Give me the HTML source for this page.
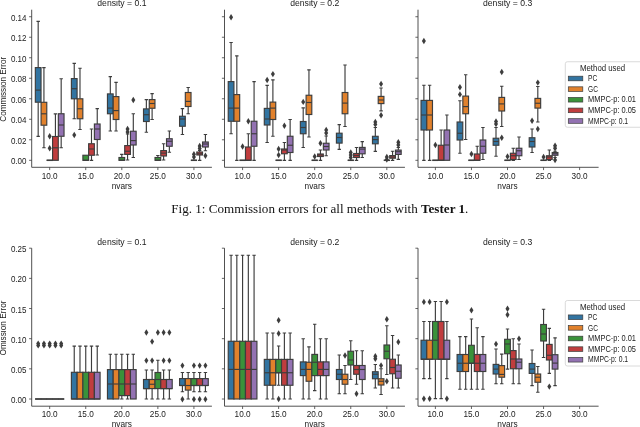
<!DOCTYPE html>
<html><head><meta charset="utf-8"><style>
html,body{margin:0;padding:0;background:#fff;}
body{width:640px;height:427px;overflow:hidden;position:relative;}
svg{position:absolute;left:0;top:0;will-change:transform;filter:blur(0.3px);}
.tk{font-family:"Liberation Sans",sans-serif;font-size:8.8px;fill:#1a1a1a;}
.cap{font-family:"Liberation Serif",serif;font-size:13.5px;fill:#111;}
</style></head><body>
<svg width="640" height="427" viewBox="0 0 640 427">
<path d="M31.7 9.7V167.3H211.9" stroke="#3d3d3d" stroke-width="0.9" fill="none"/>
<path d="M29.1 160.3H31.7" stroke="#3d3d3d" stroke-width="0.8"/>
<text x="26.5" y="164.3" text-anchor="end" class="tk" textLength="15.6" lengthAdjust="spacingAndGlyphs">0.00</text>
<path d="M29.1 139.79H31.7" stroke="#3d3d3d" stroke-width="0.8"/>
<text x="26.5" y="143.79" text-anchor="end" class="tk" textLength="15.6" lengthAdjust="spacingAndGlyphs">0.02</text>
<path d="M29.1 119.28H31.7" stroke="#3d3d3d" stroke-width="0.8"/>
<text x="26.5" y="123.28" text-anchor="end" class="tk" textLength="15.6" lengthAdjust="spacingAndGlyphs">0.04</text>
<path d="M29.1 98.77H31.7" stroke="#3d3d3d" stroke-width="0.8"/>
<text x="26.5" y="102.77" text-anchor="end" class="tk" textLength="15.6" lengthAdjust="spacingAndGlyphs">0.06</text>
<path d="M29.1 78.26H31.7" stroke="#3d3d3d" stroke-width="0.8"/>
<text x="26.5" y="82.26" text-anchor="end" class="tk" textLength="15.6" lengthAdjust="spacingAndGlyphs">0.08</text>
<path d="M29.1 57.75H31.7" stroke="#3d3d3d" stroke-width="0.8"/>
<text x="26.5" y="61.75" text-anchor="end" class="tk" textLength="15.6" lengthAdjust="spacingAndGlyphs">0.10</text>
<path d="M29.1 37.24H31.7" stroke="#3d3d3d" stroke-width="0.8"/>
<text x="26.5" y="41.24" text-anchor="end" class="tk" textLength="15.6" lengthAdjust="spacingAndGlyphs">0.12</text>
<path d="M29.1 16.73H31.7" stroke="#3d3d3d" stroke-width="0.8"/>
<text x="26.5" y="20.73" text-anchor="end" class="tk" textLength="15.6" lengthAdjust="spacingAndGlyphs">0.14</text>
<path d="M49.68 167.3V170.1" stroke="#3d3d3d" stroke-width="0.8"/>
<text x="49.68" y="178.9" text-anchor="middle" class="tk" textLength="16" lengthAdjust="spacingAndGlyphs">10.0</text>
<path d="M85.74 167.3V170.1" stroke="#3d3d3d" stroke-width="0.8"/>
<text x="85.74" y="178.9" text-anchor="middle" class="tk" textLength="16" lengthAdjust="spacingAndGlyphs">15.0</text>
<path d="M121.8 167.3V170.1" stroke="#3d3d3d" stroke-width="0.8"/>
<text x="121.8" y="178.9" text-anchor="middle" class="tk" textLength="16" lengthAdjust="spacingAndGlyphs">20.0</text>
<path d="M157.86 167.3V170.1" stroke="#3d3d3d" stroke-width="0.8"/>
<text x="157.86" y="178.9" text-anchor="middle" class="tk" textLength="16" lengthAdjust="spacingAndGlyphs">25.0</text>
<path d="M193.92 167.3V170.1" stroke="#3d3d3d" stroke-width="0.8"/>
<text x="193.92" y="178.9" text-anchor="middle" class="tk" textLength="16" lengthAdjust="spacingAndGlyphs">30.0</text>
<text x="121.8" y="188.9" text-anchor="middle" class="tk" textLength="20.3" lengthAdjust="spacingAndGlyphs">nvars</text>
<text x="121.9" y="5.9" text-anchor="middle" class="tk" textLength="49.2" lengthAdjust="spacingAndGlyphs">density = 0.1</text>
<path d="M38.18 67.6V21.4M36.48 21.4H39.88" stroke="#3d3d3d" stroke-width="1.15" fill="none"/>
<path d="M38.18 102.2V136.3M36.48 136.3H39.88" stroke="#3d3d3d" stroke-width="1.15" fill="none"/>
<rect x="35.33" y="67.6" width="5.7" height="34.6" fill="#3274a1" stroke="#3d3d3d" stroke-width="1.15"/>
<path d="M35.33 90.1H41.03" stroke="#3d3d3d" stroke-width="1.15"/>
<path d="M43.93 102.3V67.6M42.23 67.6H45.63" stroke="#3d3d3d" stroke-width="1.15" fill="none"/>
<path d="M43.93 125.2V147.7M42.23 147.7H45.63" stroke="#3d3d3d" stroke-width="1.15" fill="none"/>
<rect x="41.08" y="102.3" width="5.7" height="22.9" fill="#e1812c" stroke="#3d3d3d" stroke-width="1.15"/>
<path d="M41.08 113.8H46.78" stroke="#3d3d3d" stroke-width="1.15"/>
<path d="M46.53 160.3H52.83" stroke="#3d3d3d" stroke-width="1.5"/>
<path d="M46.83 160.3H52.53" stroke="#3d3d3d" stroke-width="1.15"/>
<path d="M49.68 133.05L51.68 136.25L49.68 139.45L47.68 136.25Z" fill="#3d3d3d"/>
<path d="M49.68 145.05L51.68 148.25L49.68 151.45L47.68 148.25Z" fill="#3d3d3d"/>
<path d="M55.43 136.5V113.8M53.73 113.8H57.13" stroke="#3d3d3d" stroke-width="1.15" fill="none"/>
<rect x="52.58" y="136.5" width="5.7" height="23.8" fill="#c03d3e" stroke="#3d3d3d" stroke-width="1.15"/>
<path d="M52.58 147.8H58.28" stroke="#3d3d3d" stroke-width="1.15"/>
<path d="M61.18 113.75V78.75M59.48 78.75H62.88" stroke="#3d3d3d" stroke-width="1.15" fill="none"/>
<path d="M61.18 136.25V147.75M59.48 147.75H62.88" stroke="#3d3d3d" stroke-width="1.15" fill="none"/>
<rect x="58.33" y="113.75" width="5.7" height="22.5" fill="#9372b2" stroke="#3d3d3d" stroke-width="1.15"/>
<path d="M58.33 125H64.03" stroke="#3d3d3d" stroke-width="1.15"/>
<path d="M74.24 78.6V63.3M72.54 63.3H75.94" stroke="#3d3d3d" stroke-width="1.15" fill="none"/>
<path d="M74.24 98.8V118.75M72.54 118.75H75.94" stroke="#3d3d3d" stroke-width="1.15" fill="none"/>
<rect x="71.39" y="78.6" width="5.7" height="20.2" fill="#3274a1" stroke="#3d3d3d" stroke-width="1.15"/>
<path d="M71.39 88.7H77.09" stroke="#3d3d3d" stroke-width="1.15"/>
<path d="M74.24 131.8L76.24 135L74.24 138.2L72.24 135Z" fill="#3d3d3d"/>
<path d="M79.99 98.8V68.2M78.29 68.2H81.69" stroke="#3d3d3d" stroke-width="1.15" fill="none"/>
<path d="M79.99 118.75V129.5M78.29 129.5H81.69" stroke="#3d3d3d" stroke-width="1.15" fill="none"/>
<rect x="77.14" y="98.8" width="5.7" height="19.95" fill="#e1812c" stroke="#3d3d3d" stroke-width="1.15"/>
<path d="M77.14 108.75H82.84" stroke="#3d3d3d" stroke-width="1.15"/>
<rect x="82.89" y="155.25" width="5.7" height="5.05" fill="#3a923a" stroke="#3d3d3d" stroke-width="1.15"/>
<path d="M82.89 160.3H88.59" stroke="#3d3d3d" stroke-width="1.15"/>
<path d="M91.49 143.75V129M89.79 129H93.19" stroke="#3d3d3d" stroke-width="1.15" fill="none"/>
<path d="M91.49 155.25V160.3M89.79 160.3H93.19" stroke="#3d3d3d" stroke-width="1.15" fill="none"/>
<rect x="88.64" y="143.75" width="5.7" height="11.5" fill="#c03d3e" stroke="#3d3d3d" stroke-width="1.15"/>
<path d="M88.64 149H94.34" stroke="#3d3d3d" stroke-width="1.15"/>
<path d="M97.24 124V108.6M95.54 108.6H98.94" stroke="#3d3d3d" stroke-width="1.15" fill="none"/>
<path d="M97.24 139.5V155M95.54 155H98.94" stroke="#3d3d3d" stroke-width="1.15" fill="none"/>
<rect x="94.39" y="124" width="5.7" height="15.5" fill="#9372b2" stroke="#3d3d3d" stroke-width="1.15"/>
<path d="M94.39 129H100.09" stroke="#3d3d3d" stroke-width="1.15"/>
<path d="M110.3 93.9V76.6M108.6 76.6H112" stroke="#3d3d3d" stroke-width="1.15" fill="none"/>
<path d="M110.3 113.75V131M108.6 131H112" stroke="#3d3d3d" stroke-width="1.15" fill="none"/>
<rect x="107.45" y="93.9" width="5.7" height="19.85" fill="#3274a1" stroke="#3d3d3d" stroke-width="1.15"/>
<path d="M107.45 108.1H113.15" stroke="#3d3d3d" stroke-width="1.15"/>
<path d="M116.05 96.6V82.4M114.35 82.4H117.75" stroke="#3d3d3d" stroke-width="1.15" fill="none"/>
<path d="M116.05 119.5V131M114.35 131H117.75" stroke="#3d3d3d" stroke-width="1.15" fill="none"/>
<rect x="113.2" y="96.6" width="5.7" height="22.9" fill="#e1812c" stroke="#3d3d3d" stroke-width="1.15"/>
<path d="M113.2 110.6H118.9" stroke="#3d3d3d" stroke-width="1.15"/>
<path d="M121.8 157.5V154.4M120.1 154.4H123.5" stroke="#3d3d3d" stroke-width="1.15" fill="none"/>
<rect x="118.95" y="157.5" width="5.7" height="2.8" fill="#3a923a" stroke="#3d3d3d" stroke-width="1.15"/>
<path d="M118.95 160.3H124.65" stroke="#3d3d3d" stroke-width="1.15"/>
<path d="M127.55 145.6V134M125.85 134H129.25" stroke="#3d3d3d" stroke-width="1.15" fill="none"/>
<path d="M127.55 154.4V160M125.85 160H129.25" stroke="#3d3d3d" stroke-width="1.15" fill="none"/>
<rect x="124.7" y="145.6" width="5.7" height="8.8" fill="#c03d3e" stroke="#3d3d3d" stroke-width="1.15"/>
<path d="M124.7 151.25H130.4" stroke="#3d3d3d" stroke-width="1.15"/>
<path d="M127.55 125.8L129.55 129L127.55 132.2L125.55 129Z" fill="#3d3d3d"/>
<path d="M127.55 128.8L129.55 132L127.55 135.2L125.55 132Z" fill="#3d3d3d"/>
<path d="M133.3 131.25V113.75M131.6 113.75H135" stroke="#3d3d3d" stroke-width="1.15" fill="none"/>
<path d="M133.3 145V157.5M131.6 157.5H135" stroke="#3d3d3d" stroke-width="1.15" fill="none"/>
<rect x="130.45" y="131.25" width="5.7" height="13.75" fill="#9372b2" stroke="#3d3d3d" stroke-width="1.15"/>
<path d="M130.45 140.6H136.15" stroke="#3d3d3d" stroke-width="1.15"/>
<path d="M133.3 96.8L135.3 100L133.3 103.2L131.3 100Z" fill="#3d3d3d"/>
<path d="M146.36 108.9V99.6M144.66 99.6H148.06" stroke="#3d3d3d" stroke-width="1.15" fill="none"/>
<path d="M146.36 121.5V132.2M144.66 132.2H148.06" stroke="#3d3d3d" stroke-width="1.15" fill="none"/>
<rect x="143.51" y="108.9" width="5.7" height="12.6" fill="#3274a1" stroke="#3d3d3d" stroke-width="1.15"/>
<path d="M143.51 114.7H149.21" stroke="#3d3d3d" stroke-width="1.15"/>
<path d="M152.11 99.6V93.6M150.41 93.6H153.81" stroke="#3d3d3d" stroke-width="1.15" fill="none"/>
<path d="M152.11 108.25V119.5M150.41 119.5H153.81" stroke="#3d3d3d" stroke-width="1.15" fill="none"/>
<rect x="149.26" y="99.6" width="5.7" height="8.65" fill="#e1812c" stroke="#3d3d3d" stroke-width="1.15"/>
<path d="M149.26 103.5H154.96" stroke="#3d3d3d" stroke-width="1.15"/>
<path d="M157.86 157.5V155.5M156.16 155.5H159.56" stroke="#3d3d3d" stroke-width="1.15" fill="none"/>
<rect x="155.01" y="157.5" width="5.7" height="2.8" fill="#3a923a" stroke="#3d3d3d" stroke-width="1.15"/>
<path d="M155.01 160.3H160.71" stroke="#3d3d3d" stroke-width="1.15"/>
<path d="M163.61 150.6V143.75M161.91 143.75H165.31" stroke="#3d3d3d" stroke-width="1.15" fill="none"/>
<path d="M163.61 156V160M161.91 160H165.31" stroke="#3d3d3d" stroke-width="1.15" fill="none"/>
<rect x="160.76" y="150.6" width="5.7" height="5.4" fill="#c03d3e" stroke="#3d3d3d" stroke-width="1.15"/>
<path d="M160.76 153.1H166.46" stroke="#3d3d3d" stroke-width="1.15"/>
<path d="M169.36 138.75V131M167.66 131H171.06" stroke="#3d3d3d" stroke-width="1.15" fill="none"/>
<path d="M169.36 146.25V152.25M167.66 152.25H171.06" stroke="#3d3d3d" stroke-width="1.15" fill="none"/>
<rect x="166.51" y="138.75" width="5.7" height="7.5" fill="#9372b2" stroke="#3d3d3d" stroke-width="1.15"/>
<path d="M166.51 141.25H172.21" stroke="#3d3d3d" stroke-width="1.15"/>
<path d="M182.42 116.25V108.6M180.72 108.6H184.12" stroke="#3d3d3d" stroke-width="1.15" fill="none"/>
<path d="M182.42 126.25V134.5M180.72 134.5H184.12" stroke="#3d3d3d" stroke-width="1.15" fill="none"/>
<rect x="179.57" y="116.25" width="5.7" height="10" fill="#3274a1" stroke="#3d3d3d" stroke-width="1.15"/>
<path d="M179.57 119H185.27" stroke="#3d3d3d" stroke-width="1.15"/>
<path d="M188.17 92.5V87.5M186.47 87.5H189.87" stroke="#3d3d3d" stroke-width="1.15" fill="none"/>
<path d="M188.17 106.5V113.75M186.47 113.75H189.87" stroke="#3d3d3d" stroke-width="1.15" fill="none"/>
<rect x="185.32" y="92.5" width="5.7" height="14" fill="#e1812c" stroke="#3d3d3d" stroke-width="1.15"/>
<path d="M185.32 101.4H191.02" stroke="#3d3d3d" stroke-width="1.15"/>
<path d="M190.77 160.3H197.07" stroke="#3d3d3d" stroke-width="1.5"/>
<path d="M191.07 160.3H196.77" stroke="#3d3d3d" stroke-width="1.15"/>
<path d="M193.92 151.1L195.92 154.3L193.92 157.5L191.92 154.3Z" fill="#3d3d3d"/>
<path d="M193.92 153.8L195.92 157L193.92 160.2L191.92 157Z" fill="#3d3d3d"/>
<path d="M199.67 152V150.5M197.97 150.5H201.37" stroke="#3d3d3d" stroke-width="1.15" fill="none"/>
<path d="M199.67 155V160.3M197.97 160.3H201.37" stroke="#3d3d3d" stroke-width="1.15" fill="none"/>
<rect x="196.82" y="152" width="5.7" height="3" fill="#c03d3e" stroke="#3d3d3d" stroke-width="1.15"/>
<path d="M196.82 153.75H202.52" stroke="#3d3d3d" stroke-width="1.15"/>
<path d="M199.67 142.8L201.67 146L199.67 149.2L197.67 146Z" fill="#3d3d3d"/>
<path d="M199.67 145.3L201.67 148.5L199.67 151.7L197.67 148.5Z" fill="#3d3d3d"/>
<path d="M205.42 142V134.5M203.72 134.5H207.12" stroke="#3d3d3d" stroke-width="1.15" fill="none"/>
<path d="M205.42 147V150.75M203.72 150.75H207.12" stroke="#3d3d3d" stroke-width="1.15" fill="none"/>
<rect x="202.57" y="142" width="5.7" height="5" fill="#9372b2" stroke="#3d3d3d" stroke-width="1.15"/>
<path d="M202.57 144H208.27" stroke="#3d3d3d" stroke-width="1.15"/>
<path d="M205.42 152.55L207.42 155.75L205.42 158.95L203.42 155.75Z" fill="#3d3d3d"/>
<path d="M224.5 9.7V167.3H404.95" stroke="#3d3d3d" stroke-width="0.9" fill="none"/>
<path d="M221.9 160.3H224.5" stroke="#3d3d3d" stroke-width="0.8"/>
<path d="M221.9 139.79H224.5" stroke="#3d3d3d" stroke-width="0.8"/>
<path d="M221.9 119.28H224.5" stroke="#3d3d3d" stroke-width="0.8"/>
<path d="M221.9 98.77H224.5" stroke="#3d3d3d" stroke-width="0.8"/>
<path d="M221.9 78.26H224.5" stroke="#3d3d3d" stroke-width="0.8"/>
<path d="M221.9 57.75H224.5" stroke="#3d3d3d" stroke-width="0.8"/>
<path d="M221.9 37.24H224.5" stroke="#3d3d3d" stroke-width="0.8"/>
<path d="M221.9 16.73H224.5" stroke="#3d3d3d" stroke-width="0.8"/>
<path d="M242.58 167.3V170.1" stroke="#3d3d3d" stroke-width="0.8"/>
<text x="242.58" y="178.9" text-anchor="middle" class="tk" textLength="16" lengthAdjust="spacingAndGlyphs">10.0</text>
<path d="M278.64 167.3V170.1" stroke="#3d3d3d" stroke-width="0.8"/>
<text x="278.64" y="178.9" text-anchor="middle" class="tk" textLength="16" lengthAdjust="spacingAndGlyphs">15.0</text>
<path d="M314.7 167.3V170.1" stroke="#3d3d3d" stroke-width="0.8"/>
<text x="314.7" y="178.9" text-anchor="middle" class="tk" textLength="16" lengthAdjust="spacingAndGlyphs">20.0</text>
<path d="M350.76 167.3V170.1" stroke="#3d3d3d" stroke-width="0.8"/>
<text x="350.76" y="178.9" text-anchor="middle" class="tk" textLength="16" lengthAdjust="spacingAndGlyphs">25.0</text>
<path d="M386.82 167.3V170.1" stroke="#3d3d3d" stroke-width="0.8"/>
<text x="386.82" y="178.9" text-anchor="middle" class="tk" textLength="16" lengthAdjust="spacingAndGlyphs">30.0</text>
<text x="314.7" y="188.9" text-anchor="middle" class="tk" textLength="20.3" lengthAdjust="spacingAndGlyphs">nvars</text>
<text x="314.8" y="5.9" text-anchor="middle" class="tk" textLength="49.2" lengthAdjust="spacingAndGlyphs">density = 0.2</text>
<path d="M231.08 81.6V42.5M229.38 42.5H232.78" stroke="#3d3d3d" stroke-width="1.15" fill="none"/>
<path d="M231.08 121.25V133.75M229.38 133.75H232.78" stroke="#3d3d3d" stroke-width="1.15" fill="none"/>
<rect x="228.23" y="81.6" width="5.7" height="39.65" fill="#3274a1" stroke="#3d3d3d" stroke-width="1.15"/>
<path d="M228.23 108.1H233.93" stroke="#3d3d3d" stroke-width="1.15"/>
<path d="M231.08 14.05L233.08 17.25L231.08 20.45L229.08 17.25Z" fill="#3d3d3d"/>
<path d="M236.83 94.6V55.8M235.13 55.8H238.53" stroke="#3d3d3d" stroke-width="1.15" fill="none"/>
<path d="M236.83 121.25V160.3M235.13 160.3H238.53" stroke="#3d3d3d" stroke-width="1.15" fill="none"/>
<rect x="233.98" y="94.6" width="5.7" height="26.65" fill="#e1812c" stroke="#3d3d3d" stroke-width="1.15"/>
<path d="M233.98 108.1H239.68" stroke="#3d3d3d" stroke-width="1.15"/>
<path d="M239.43 160.3H245.73" stroke="#3d3d3d" stroke-width="1.5"/>
<path d="M239.73 160.3H245.43" stroke="#3d3d3d" stroke-width="1.15"/>
<path d="M242.58 143.3L244.58 146.5L242.58 149.7L240.58 146.5Z" fill="#3d3d3d"/>
<path d="M248.33 147V133.75M246.63 133.75H250.03" stroke="#3d3d3d" stroke-width="1.15" fill="none"/>
<rect x="245.48" y="147" width="5.7" height="13.3" fill="#c03d3e" stroke="#3d3d3d" stroke-width="1.15"/>
<path d="M245.48 160.3H251.18" stroke="#3d3d3d" stroke-width="1.15"/>
<path d="M248.33 118.05L250.33 121.25L248.33 124.45L246.33 121.25Z" fill="#3d3d3d"/>
<path d="M254.08 121.25V81.6M252.38 81.6H255.78" stroke="#3d3d3d" stroke-width="1.15" fill="none"/>
<path d="M254.08 146.25V160.3M252.38 160.3H255.78" stroke="#3d3d3d" stroke-width="1.15" fill="none"/>
<rect x="251.23" y="121.25" width="5.7" height="25" fill="#9372b2" stroke="#3d3d3d" stroke-width="1.15"/>
<path d="M251.23 133.75H256.93" stroke="#3d3d3d" stroke-width="1.15"/>
<path d="M267.14 108.4V85.4M265.44 85.4H268.84" stroke="#3d3d3d" stroke-width="1.15" fill="none"/>
<path d="M267.14 125V142.5M265.44 142.5H268.84" stroke="#3d3d3d" stroke-width="1.15" fill="none"/>
<rect x="264.29" y="108.4" width="5.7" height="16.6" fill="#3274a1" stroke="#3d3d3d" stroke-width="1.15"/>
<path d="M264.29 119H269.99" stroke="#3d3d3d" stroke-width="1.15"/>
<path d="M267.14 76.8L269.14 80L267.14 83.2L265.14 80Z" fill="#3d3d3d"/>
<path d="M272.89 102.1V79.9M271.19 79.9H274.59" stroke="#3d3d3d" stroke-width="1.15" fill="none"/>
<path d="M272.89 119.5V136.25M271.19 136.25H274.59" stroke="#3d3d3d" stroke-width="1.15" fill="none"/>
<rect x="270.04" y="102.1" width="5.7" height="17.4" fill="#e1812c" stroke="#3d3d3d" stroke-width="1.15"/>
<path d="M270.04 108.1H275.74" stroke="#3d3d3d" stroke-width="1.15"/>
<path d="M272.89 70.9L274.89 74.1L272.89 77.3L270.89 74.1Z" fill="#3d3d3d"/>
<path d="M275.49 160.3H281.79" stroke="#3d3d3d" stroke-width="1.5"/>
<path d="M275.79 160.3H281.49" stroke="#3d3d3d" stroke-width="1.15"/>
<path d="M278.64 145.8L280.64 149L278.64 152.2L276.64 149Z" fill="#3d3d3d"/>
<path d="M278.64 151.8L280.64 155L278.64 158.2L276.64 155Z" fill="#3d3d3d"/>
<path d="M284.39 149V142.5M282.69 142.5H286.09" stroke="#3d3d3d" stroke-width="1.15" fill="none"/>
<path d="M284.39 153.75V160.3M282.69 160.3H286.09" stroke="#3d3d3d" stroke-width="1.15" fill="none"/>
<rect x="281.54" y="149" width="5.7" height="4.75" fill="#c03d3e" stroke="#3d3d3d" stroke-width="1.15"/>
<path d="M281.54 150H287.24" stroke="#3d3d3d" stroke-width="1.15"/>
<path d="M284.39 122.55L286.39 125.75L284.39 128.95L282.39 125.75Z" fill="#3d3d3d"/>
<path d="M290.14 136.25V119.5M288.44 119.5H291.84" stroke="#3d3d3d" stroke-width="1.15" fill="none"/>
<path d="M290.14 152.5V160.3M288.44 160.3H291.84" stroke="#3d3d3d" stroke-width="1.15" fill="none"/>
<rect x="287.29" y="136.25" width="5.7" height="16.25" fill="#9372b2" stroke="#3d3d3d" stroke-width="1.15"/>
<path d="M287.29 145.25H292.99" stroke="#3d3d3d" stroke-width="1.15"/>
<path d="M303.2 121.5V107.9M301.5 107.9H304.9" stroke="#3d3d3d" stroke-width="1.15" fill="none"/>
<path d="M303.2 133.75V147.5M301.5 147.5H304.9" stroke="#3d3d3d" stroke-width="1.15" fill="none"/>
<rect x="300.35" y="121.5" width="5.7" height="12.25" fill="#3274a1" stroke="#3d3d3d" stroke-width="1.15"/>
<path d="M300.35 127.5H306.05" stroke="#3d3d3d" stroke-width="1.15"/>
<path d="M303.2 98.7L305.2 101.9L303.2 105.1L301.2 101.9Z" fill="#3d3d3d"/>
<path d="M308.95 95.25V69.9M307.25 69.9H310.65" stroke="#3d3d3d" stroke-width="1.15" fill="none"/>
<path d="M308.95 114.5V137M307.25 137H310.65" stroke="#3d3d3d" stroke-width="1.15" fill="none"/>
<rect x="306.1" y="95.25" width="5.7" height="19.25" fill="#e1812c" stroke="#3d3d3d" stroke-width="1.15"/>
<path d="M306.1 102.5H311.8" stroke="#3d3d3d" stroke-width="1.15"/>
<path d="M311.55 160.3H317.85" stroke="#3d3d3d" stroke-width="1.5"/>
<path d="M311.85 160.3H317.55" stroke="#3d3d3d" stroke-width="1.15"/>
<path d="M314.7 153.3L316.7 156.5L314.7 159.7L312.7 156.5Z" fill="#3d3d3d"/>
<path d="M320.45 154V150M318.75 150H322.15" stroke="#3d3d3d" stroke-width="1.15" fill="none"/>
<path d="M320.45 156.5V160.3M318.75 160.3H322.15" stroke="#3d3d3d" stroke-width="1.15" fill="none"/>
<rect x="317.6" y="154" width="5.7" height="2.5" fill="#c03d3e" stroke="#3d3d3d" stroke-width="1.15"/>
<path d="M317.6 155H323.3" stroke="#3d3d3d" stroke-width="1.15"/>
<path d="M320.45 140.05L322.45 143.25L320.45 146.45L318.45 143.25Z" fill="#3d3d3d"/>
<path d="M326.2 143.25V136M324.5 136H327.9" stroke="#3d3d3d" stroke-width="1.15" fill="none"/>
<path d="M326.2 150V155.75M324.5 155.75H327.9" stroke="#3d3d3d" stroke-width="1.15" fill="none"/>
<rect x="323.35" y="143.25" width="5.7" height="6.75" fill="#9372b2" stroke="#3d3d3d" stroke-width="1.15"/>
<path d="M323.35 146.5H329.05" stroke="#3d3d3d" stroke-width="1.15"/>
<path d="M326.2 126.8L328.2 130L326.2 133.2L324.2 130Z" fill="#3d3d3d"/>
<path d="M326.2 129.8L328.2 133L326.2 136.2L324.2 133Z" fill="#3d3d3d"/>
<path d="M339.26 133.2V124.6M337.56 124.6H340.96" stroke="#3d3d3d" stroke-width="1.15" fill="none"/>
<path d="M339.26 143.1V149.4M337.56 149.4H340.96" stroke="#3d3d3d" stroke-width="1.15" fill="none"/>
<rect x="336.41" y="133.2" width="5.7" height="9.9" fill="#3274a1" stroke="#3d3d3d" stroke-width="1.15"/>
<path d="M336.41 137.5H342.11" stroke="#3d3d3d" stroke-width="1.15"/>
<path d="M345.01 92.5V65M343.31 65H346.71" stroke="#3d3d3d" stroke-width="1.15" fill="none"/>
<path d="M345.01 113.75V126.5M343.31 126.5H346.71" stroke="#3d3d3d" stroke-width="1.15" fill="none"/>
<rect x="342.16" y="92.5" width="5.7" height="21.25" fill="#e1812c" stroke="#3d3d3d" stroke-width="1.15"/>
<path d="M342.16 103.1H347.86" stroke="#3d3d3d" stroke-width="1.15"/>
<path d="M347.61 160.3H353.91" stroke="#3d3d3d" stroke-width="1.5"/>
<path d="M347.91 160.3H353.61" stroke="#3d3d3d" stroke-width="1.15"/>
<path d="M350.76 149.3L352.76 152.5L350.76 155.7L348.76 152.5Z" fill="#3d3d3d"/>
<path d="M350.76 151.8L352.76 155L350.76 158.2L348.76 155Z" fill="#3d3d3d"/>
<path d="M350.76 154.3L352.76 157.5L350.76 160.7L348.76 157.5Z" fill="#3d3d3d"/>
<path d="M356.51 153.5V147.5M354.81 147.5H358.21" stroke="#3d3d3d" stroke-width="1.15" fill="none"/>
<path d="M356.51 157.5V160.3M354.81 160.3H358.21" stroke="#3d3d3d" stroke-width="1.15" fill="none"/>
<rect x="353.66" y="153.5" width="5.7" height="4" fill="#c03d3e" stroke="#3d3d3d" stroke-width="1.15"/>
<path d="M353.66 155.5H359.36" stroke="#3d3d3d" stroke-width="1.15"/>
<path d="M362.26 147.4V141.6M360.56 141.6H363.96" stroke="#3d3d3d" stroke-width="1.15" fill="none"/>
<path d="M362.26 153.8V157.5M360.56 157.5H363.96" stroke="#3d3d3d" stroke-width="1.15" fill="none"/>
<rect x="359.41" y="147.4" width="5.7" height="6.4" fill="#9372b2" stroke="#3d3d3d" stroke-width="1.15"/>
<path d="M359.41 149.1H365.11" stroke="#3d3d3d" stroke-width="1.15"/>
<path d="M375.32 136.3V127.5M373.62 127.5H377.02" stroke="#3d3d3d" stroke-width="1.15" fill="none"/>
<path d="M375.32 143.8V151.3M373.62 151.3H377.02" stroke="#3d3d3d" stroke-width="1.15" fill="none"/>
<rect x="372.47" y="136.3" width="5.7" height="7.5" fill="#3274a1" stroke="#3d3d3d" stroke-width="1.15"/>
<path d="M372.47 139.6H378.17" stroke="#3d3d3d" stroke-width="1.15"/>
<path d="M375.32 118.7L377.32 121.9L375.32 125.1L373.32 121.9Z" fill="#3d3d3d"/>
<path d="M375.32 121.2L377.32 124.4L375.32 127.6L373.32 124.4Z" fill="#3d3d3d"/>
<path d="M381.07 96.4V88M379.37 88H382.77" stroke="#3d3d3d" stroke-width="1.15" fill="none"/>
<path d="M381.07 103.6V110.9M379.37 110.9H382.77" stroke="#3d3d3d" stroke-width="1.15" fill="none"/>
<rect x="378.22" y="96.4" width="5.7" height="7.2" fill="#e1812c" stroke="#3d3d3d" stroke-width="1.15"/>
<path d="M378.22 100H383.92" stroke="#3d3d3d" stroke-width="1.15"/>
<path d="M381.07 80.7L383.07 83.9L381.07 87.1L379.07 83.9Z" fill="#3d3d3d"/>
<path d="M381.07 112.05L383.07 115.25L381.07 118.45L379.07 115.25Z" fill="#3d3d3d"/>
<path d="M383.67 160.3H389.97" stroke="#3d3d3d" stroke-width="1.5"/>
<path d="M383.97 160.3H389.67" stroke="#3d3d3d" stroke-width="1.15"/>
<path d="M386.82 153.8L388.82 157L386.82 160.2L384.82 157Z" fill="#3d3d3d"/>
<path d="M386.82 156.3L388.82 159.5L386.82 162.7L384.82 159.5Z" fill="#3d3d3d"/>
<path d="M392.57 155.6V151.25M390.87 151.25H394.27" stroke="#3d3d3d" stroke-width="1.15" fill="none"/>
<path d="M392.57 158.2V160.3M390.87 160.3H394.27" stroke="#3d3d3d" stroke-width="1.15" fill="none"/>
<rect x="389.72" y="155.6" width="5.7" height="2.6" fill="#c03d3e" stroke="#3d3d3d" stroke-width="1.15"/>
<path d="M389.72 157H395.42" stroke="#3d3d3d" stroke-width="1.15"/>
<path d="M398.32 150.1V147.5M396.62 147.5H400.02" stroke="#3d3d3d" stroke-width="1.15" fill="none"/>
<path d="M398.32 154.4V159.4M396.62 159.4H400.02" stroke="#3d3d3d" stroke-width="1.15" fill="none"/>
<rect x="395.47" y="150.1" width="5.7" height="4.3" fill="#9372b2" stroke="#3d3d3d" stroke-width="1.15"/>
<path d="M395.47 151.7H401.17" stroke="#3d3d3d" stroke-width="1.15"/>
<path d="M398.32 139.1L400.32 142.3L398.32 145.5L396.32 142.3Z" fill="#3d3d3d"/>
<path d="M398.32 141.8L400.32 145L398.32 148.2L396.32 145Z" fill="#3d3d3d"/>
<path d="M418 9.7V167.3H598.6" stroke="#3d3d3d" stroke-width="0.9" fill="none"/>
<path d="M415.4 160.3H418" stroke="#3d3d3d" stroke-width="0.8"/>
<path d="M415.4 139.79H418" stroke="#3d3d3d" stroke-width="0.8"/>
<path d="M415.4 119.28H418" stroke="#3d3d3d" stroke-width="0.8"/>
<path d="M415.4 98.77H418" stroke="#3d3d3d" stroke-width="0.8"/>
<path d="M415.4 78.26H418" stroke="#3d3d3d" stroke-width="0.8"/>
<path d="M415.4 57.75H418" stroke="#3d3d3d" stroke-width="0.8"/>
<path d="M415.4 37.24H418" stroke="#3d3d3d" stroke-width="0.8"/>
<path d="M415.4 16.73H418" stroke="#3d3d3d" stroke-width="0.8"/>
<path d="M435.38 167.3V170.1" stroke="#3d3d3d" stroke-width="0.8"/>
<text x="435.38" y="178.9" text-anchor="middle" class="tk" textLength="16" lengthAdjust="spacingAndGlyphs">10.0</text>
<path d="M471.44 167.3V170.1" stroke="#3d3d3d" stroke-width="0.8"/>
<text x="471.44" y="178.9" text-anchor="middle" class="tk" textLength="16" lengthAdjust="spacingAndGlyphs">15.0</text>
<path d="M507.5 167.3V170.1" stroke="#3d3d3d" stroke-width="0.8"/>
<text x="507.5" y="178.9" text-anchor="middle" class="tk" textLength="16" lengthAdjust="spacingAndGlyphs">20.0</text>
<path d="M543.56 167.3V170.1" stroke="#3d3d3d" stroke-width="0.8"/>
<text x="543.56" y="178.9" text-anchor="middle" class="tk" textLength="16" lengthAdjust="spacingAndGlyphs">25.0</text>
<path d="M579.62 167.3V170.1" stroke="#3d3d3d" stroke-width="0.8"/>
<text x="579.62" y="178.9" text-anchor="middle" class="tk" textLength="16" lengthAdjust="spacingAndGlyphs">30.0</text>
<text x="507.5" y="188.9" text-anchor="middle" class="tk" textLength="20.3" lengthAdjust="spacingAndGlyphs">nvars</text>
<text x="507.6" y="5.9" text-anchor="middle" class="tk" textLength="49.2" lengthAdjust="spacingAndGlyphs">density = 0.3</text>
<path d="M423.88 100.4V85.25M422.18 85.25H425.58" stroke="#3d3d3d" stroke-width="1.15" fill="none"/>
<path d="M423.88 130V160.3M422.18 160.3H425.58" stroke="#3d3d3d" stroke-width="1.15" fill="none"/>
<rect x="421.03" y="100.4" width="5.7" height="29.6" fill="#3274a1" stroke="#3d3d3d" stroke-width="1.15"/>
<path d="M421.03 115H426.73" stroke="#3d3d3d" stroke-width="1.15"/>
<path d="M423.88 37.8L425.88 41L423.88 44.2L421.88 41Z" fill="#3d3d3d"/>
<path d="M429.63 100.4V85.25M427.93 85.25H431.33" stroke="#3d3d3d" stroke-width="1.15" fill="none"/>
<path d="M429.63 130V160.3M427.93 160.3H431.33" stroke="#3d3d3d" stroke-width="1.15" fill="none"/>
<rect x="426.78" y="100.4" width="5.7" height="29.6" fill="#e1812c" stroke="#3d3d3d" stroke-width="1.15"/>
<path d="M426.78 115H432.48" stroke="#3d3d3d" stroke-width="1.15"/>
<path d="M432.23 160.3H438.53" stroke="#3d3d3d" stroke-width="1.5"/>
<path d="M432.53 160.3H438.23" stroke="#3d3d3d" stroke-width="1.15"/>
<path d="M435.38 141.8L437.38 145L435.38 148.2L433.38 145Z" fill="#3d3d3d"/>
<path d="M441.13 145.25V130M439.43 130H442.83" stroke="#3d3d3d" stroke-width="1.15" fill="none"/>
<rect x="438.28" y="145.25" width="5.7" height="15.05" fill="#c03d3e" stroke="#3d3d3d" stroke-width="1.15"/>
<path d="M438.28 160.3H443.98" stroke="#3d3d3d" stroke-width="1.15"/>
<path d="M446.88 130V115M445.18 115H448.58" stroke="#3d3d3d" stroke-width="1.15" fill="none"/>
<rect x="444.03" y="130" width="5.7" height="30.3" fill="#9372b2" stroke="#3d3d3d" stroke-width="1.15"/>
<path d="M444.03 145H449.73" stroke="#3d3d3d" stroke-width="1.15"/>
<path d="M459.94 122V100.75M458.24 100.75H461.64" stroke="#3d3d3d" stroke-width="1.15" fill="none"/>
<path d="M459.94 140V153.25M458.24 153.25H461.64" stroke="#3d3d3d" stroke-width="1.15" fill="none"/>
<rect x="457.09" y="122" width="5.7" height="18" fill="#3274a1" stroke="#3d3d3d" stroke-width="1.15"/>
<path d="M457.09 133.25H462.79" stroke="#3d3d3d" stroke-width="1.15"/>
<path d="M459.94 84.05L461.94 87.25L459.94 90.45L457.94 87.25Z" fill="#3d3d3d"/>
<path d="M459.94 91.2L461.94 94.4L459.94 97.6L457.94 94.4Z" fill="#3d3d3d"/>
<path d="M465.69 96.1V74.75M463.99 74.75H467.39" stroke="#3d3d3d" stroke-width="1.15" fill="none"/>
<path d="M465.69 113.75V139.5M463.99 139.5H467.39" stroke="#3d3d3d" stroke-width="1.15" fill="none"/>
<rect x="462.84" y="96.1" width="5.7" height="17.65" fill="#e1812c" stroke="#3d3d3d" stroke-width="1.15"/>
<path d="M462.84 106.6H468.54" stroke="#3d3d3d" stroke-width="1.15"/>
<path d="M468.29 160.3H474.59" stroke="#3d3d3d" stroke-width="1.5"/>
<path d="M468.59 160.3H474.29" stroke="#3d3d3d" stroke-width="1.15"/>
<path d="M471.44 150.8L473.44 154L471.44 157.2L469.44 154Z" fill="#3d3d3d"/>
<path d="M477.19 154V146.25M475.49 146.25H478.89" stroke="#3d3d3d" stroke-width="1.15" fill="none"/>
<rect x="474.34" y="154" width="5.7" height="6.3" fill="#c03d3e" stroke="#3d3d3d" stroke-width="1.15"/>
<path d="M474.34 160.3H480.04" stroke="#3d3d3d" stroke-width="1.15"/>
<path d="M482.94 140V127.5M481.24 127.5H484.64" stroke="#3d3d3d" stroke-width="1.15" fill="none"/>
<path d="M482.94 153.25V159.5M481.24 159.5H484.64" stroke="#3d3d3d" stroke-width="1.15" fill="none"/>
<rect x="480.09" y="140" width="5.7" height="13.25" fill="#9372b2" stroke="#3d3d3d" stroke-width="1.15"/>
<path d="M480.09 146.25H485.79" stroke="#3d3d3d" stroke-width="1.15"/>
<path d="M496 138.25V127.5M494.3 127.5H497.7" stroke="#3d3d3d" stroke-width="1.15" fill="none"/>
<path d="M496 145.25V156.25M494.3 156.25H497.7" stroke="#3d3d3d" stroke-width="1.15" fill="none"/>
<rect x="493.15" y="138.25" width="5.7" height="7" fill="#3274a1" stroke="#3d3d3d" stroke-width="1.15"/>
<path d="M493.15 141.5H498.85" stroke="#3d3d3d" stroke-width="1.15"/>
<path d="M496 118.3L498 121.5L496 124.7L494 121.5Z" fill="#3d3d3d"/>
<path d="M496 120.8L498 124L496 127.2L494 124Z" fill="#3d3d3d"/>
<path d="M501.75 97.4V86.25M500.05 86.25H503.45" stroke="#3d3d3d" stroke-width="1.15" fill="none"/>
<path d="M501.75 111V126.5M500.05 126.5H503.45" stroke="#3d3d3d" stroke-width="1.15" fill="none"/>
<rect x="498.9" y="97.4" width="5.7" height="13.6" fill="#e1812c" stroke="#3d3d3d" stroke-width="1.15"/>
<path d="M498.9 103.9H504.6" stroke="#3d3d3d" stroke-width="1.15"/>
<path d="M501.75 68.8L503.75 72L501.75 75.2L499.75 72Z" fill="#3d3d3d"/>
<path d="M501.75 134.55L503.75 137.75L501.75 140.95L499.75 137.75Z" fill="#3d3d3d"/>
<path d="M504.35 160.3H510.65" stroke="#3d3d3d" stroke-width="1.5"/>
<path d="M504.65 160.3H510.35" stroke="#3d3d3d" stroke-width="1.15"/>
<path d="M507.5 153.3L509.5 156.5L507.5 159.7L505.5 156.5Z" fill="#3d3d3d"/>
<path d="M513.25 153.25V148.25M511.55 148.25H514.95" stroke="#3d3d3d" stroke-width="1.15" fill="none"/>
<path d="M513.25 159.5V160.3M511.55 160.3H514.95" stroke="#3d3d3d" stroke-width="1.15" fill="none"/>
<rect x="510.4" y="153.25" width="5.7" height="6.25" fill="#c03d3e" stroke="#3d3d3d" stroke-width="1.15"/>
<path d="M510.4 155.75H516.1" stroke="#3d3d3d" stroke-width="1.15"/>
<path d="M519 148.25V137M517.3 137H520.7" stroke="#3d3d3d" stroke-width="1.15" fill="none"/>
<path d="M519 155.75V159.5M517.3 159.5H520.7" stroke="#3d3d3d" stroke-width="1.15" fill="none"/>
<rect x="516.15" y="148.25" width="5.7" height="7.5" fill="#9372b2" stroke="#3d3d3d" stroke-width="1.15"/>
<path d="M516.15 150.75H521.85" stroke="#3d3d3d" stroke-width="1.15"/>
<path d="M532.06 137.75V129M530.36 129H533.76" stroke="#3d3d3d" stroke-width="1.15" fill="none"/>
<path d="M532.06 147V152.5M530.36 152.5H533.76" stroke="#3d3d3d" stroke-width="1.15" fill="none"/>
<rect x="529.21" y="137.75" width="5.7" height="9.25" fill="#3274a1" stroke="#3d3d3d" stroke-width="1.15"/>
<path d="M529.21 141.5H534.91" stroke="#3d3d3d" stroke-width="1.15"/>
<path d="M532.06 117.55L534.06 120.75L532.06 123.95L530.06 120.75Z" fill="#3d3d3d"/>
<path d="M537.81 98.4V86.5M536.11 86.5H539.51" stroke="#3d3d3d" stroke-width="1.15" fill="none"/>
<path d="M537.81 108.1V122M536.11 122H539.51" stroke="#3d3d3d" stroke-width="1.15" fill="none"/>
<rect x="534.96" y="98.4" width="5.7" height="9.7" fill="#e1812c" stroke="#3d3d3d" stroke-width="1.15"/>
<path d="M534.96 103.25H540.66" stroke="#3d3d3d" stroke-width="1.15"/>
<path d="M537.81 79.4L539.81 82.6L537.81 85.8L535.81 82.6Z" fill="#3d3d3d"/>
<path d="M537.81 125.8L539.81 129L537.81 132.2L535.81 129Z" fill="#3d3d3d"/>
<path d="M540.41 160.3H546.71" stroke="#3d3d3d" stroke-width="1.5"/>
<path d="M540.71 160.3H546.41" stroke="#3d3d3d" stroke-width="1.15"/>
<path d="M543.56 153.8L545.56 157L543.56 160.2L541.56 157Z" fill="#3d3d3d"/>
<path d="M549.31 155.75V150M547.61 150H551.01" stroke="#3d3d3d" stroke-width="1.15" fill="none"/>
<path d="M549.31 159.5V160.3M547.61 160.3H551.01" stroke="#3d3d3d" stroke-width="1.15" fill="none"/>
<rect x="546.46" y="155.75" width="5.7" height="3.75" fill="#c03d3e" stroke="#3d3d3d" stroke-width="1.15"/>
<path d="M546.46 157H552.16" stroke="#3d3d3d" stroke-width="1.15"/>
<path d="M555.06 152.5V151.25M553.36 151.25H556.76" stroke="#3d3d3d" stroke-width="1.15" fill="none"/>
<path d="M555.06 155.25V157.5M553.36 157.5H556.76" stroke="#3d3d3d" stroke-width="1.15" fill="none"/>
<rect x="552.21" y="152.5" width="5.7" height="2.75" fill="#9372b2" stroke="#3d3d3d" stroke-width="1.15"/>
<path d="M552.21 153.75H557.91" stroke="#3d3d3d" stroke-width="1.15"/>
<path d="M555.06 142.55L557.06 145.75L555.06 148.95L553.06 145.75Z" fill="#3d3d3d"/>
<path d="M555.06 145.05L557.06 148.25L555.06 151.45L553.06 148.25Z" fill="#3d3d3d"/>
<path d="M555.06 156.8L557.06 160L555.06 163.2L553.06 160Z" fill="#3d3d3d"/>
<text transform="translate(5.9 89.2) rotate(-90)" text-anchor="middle" class="tk" textLength="65" lengthAdjust="spacingAndGlyphs">Commission Error</text>
<rect x="565.3" y="61.75" width="80" height="65.5" rx="2" ry="2" fill="#fff" fill-opacity="0.8" stroke="#d0d0d0" stroke-width="0.8"/>
<text x="602.6" y="70.85" text-anchor="middle" class="tk" textLength="45.2" lengthAdjust="spacingAndGlyphs">Method used</text>
<rect x="568.3" y="76.2" width="14.5" height="4.6" fill="#3274a1" stroke="#3d3d3d" stroke-width="0.7"/>
<text x="588.1" y="81.2" class="tk" textLength="9.3" lengthAdjust="spacingAndGlyphs">PC</text>
<rect x="568.3" y="86.83" width="14.5" height="4.6" fill="#e1812c" stroke="#3d3d3d" stroke-width="0.7"/>
<text x="588.1" y="91.83" class="tk" textLength="9.9" lengthAdjust="spacingAndGlyphs">GC</text>
<rect x="568.3" y="97.45" width="14.5" height="4.6" fill="#3a923a" stroke="#3d3d3d" stroke-width="0.7"/>
<text x="588.1" y="102.45" class="tk" textLength="47.9" lengthAdjust="spacingAndGlyphs">MMPC-p: 0.01</text>
<rect x="568.3" y="108.08" width="14.5" height="4.6" fill="#c03d3e" stroke="#3d3d3d" stroke-width="0.7"/>
<text x="588.1" y="113.08" class="tk" textLength="47.9" lengthAdjust="spacingAndGlyphs">MMPC-p: 0.05</text>
<rect x="568.3" y="118.7" width="14.5" height="4.6" fill="#9372b2" stroke="#3d3d3d" stroke-width="0.7"/>
<text x="588.1" y="123.7" class="tk" textLength="40" lengthAdjust="spacingAndGlyphs">MMPC-p: 0.1</text>
<path d="M31.7 248.2V406.2H211.9" stroke="#3d3d3d" stroke-width="0.9" fill="none"/>
<path d="M29.1 399H31.7" stroke="#3d3d3d" stroke-width="0.8"/>
<text x="26.5" y="403" text-anchor="end" class="tk" textLength="15.6" lengthAdjust="spacingAndGlyphs">0.00</text>
<path d="M29.1 368.84H31.7" stroke="#3d3d3d" stroke-width="0.8"/>
<text x="26.5" y="372.84" text-anchor="end" class="tk" textLength="15.6" lengthAdjust="spacingAndGlyphs">0.05</text>
<path d="M29.1 338.68H31.7" stroke="#3d3d3d" stroke-width="0.8"/>
<text x="26.5" y="342.68" text-anchor="end" class="tk" textLength="15.6" lengthAdjust="spacingAndGlyphs">0.10</text>
<path d="M29.1 308.52H31.7" stroke="#3d3d3d" stroke-width="0.8"/>
<text x="26.5" y="312.52" text-anchor="end" class="tk" textLength="15.6" lengthAdjust="spacingAndGlyphs">0.15</text>
<path d="M29.1 278.36H31.7" stroke="#3d3d3d" stroke-width="0.8"/>
<text x="26.5" y="282.36" text-anchor="end" class="tk" textLength="15.6" lengthAdjust="spacingAndGlyphs">0.20</text>
<path d="M29.1 248.2H31.7" stroke="#3d3d3d" stroke-width="0.8"/>
<text x="26.5" y="252.2" text-anchor="end" class="tk" textLength="15.6" lengthAdjust="spacingAndGlyphs">0.25</text>
<path d="M49.68 406.2V409" stroke="#3d3d3d" stroke-width="0.8"/>
<text x="49.68" y="417.2" text-anchor="middle" class="tk" textLength="16" lengthAdjust="spacingAndGlyphs">10.0</text>
<path d="M85.74 406.2V409" stroke="#3d3d3d" stroke-width="0.8"/>
<text x="85.74" y="417.2" text-anchor="middle" class="tk" textLength="16" lengthAdjust="spacingAndGlyphs">15.0</text>
<path d="M121.8 406.2V409" stroke="#3d3d3d" stroke-width="0.8"/>
<text x="121.8" y="417.2" text-anchor="middle" class="tk" textLength="16" lengthAdjust="spacingAndGlyphs">20.0</text>
<path d="M157.86 406.2V409" stroke="#3d3d3d" stroke-width="0.8"/>
<text x="157.86" y="417.2" text-anchor="middle" class="tk" textLength="16" lengthAdjust="spacingAndGlyphs">25.0</text>
<path d="M193.92 406.2V409" stroke="#3d3d3d" stroke-width="0.8"/>
<text x="193.92" y="417.2" text-anchor="middle" class="tk" textLength="16" lengthAdjust="spacingAndGlyphs">30.0</text>
<text x="121.8" y="427.4" text-anchor="middle" class="tk" textLength="20.3" lengthAdjust="spacingAndGlyphs">nvars</text>
<text x="121.9" y="245.2" text-anchor="middle" class="tk" textLength="49.2" lengthAdjust="spacingAndGlyphs">density = 0.1</text>
<path d="M35.03 399H41.33" stroke="#3d3d3d" stroke-width="1.5"/>
<path d="M35.33 399H41.03" stroke="#3d3d3d" stroke-width="1.15"/>
<path d="M38.18 340.4L40.18 343.6L38.18 346.8L36.18 343.6Z" fill="#3d3d3d"/>
<path d="M38.18 342.2L40.18 345.4L38.18 348.6L36.18 345.4Z" fill="#3d3d3d"/>
<path d="M40.78 399H47.08" stroke="#3d3d3d" stroke-width="1.5"/>
<path d="M41.08 399H46.78" stroke="#3d3d3d" stroke-width="1.15"/>
<path d="M43.93 340.4L45.93 343.6L43.93 346.8L41.93 343.6Z" fill="#3d3d3d"/>
<path d="M43.93 342.2L45.93 345.4L43.93 348.6L41.93 345.4Z" fill="#3d3d3d"/>
<path d="M46.53 399H52.83" stroke="#3d3d3d" stroke-width="1.5"/>
<path d="M46.83 399H52.53" stroke="#3d3d3d" stroke-width="1.15"/>
<path d="M49.68 340.4L51.68 343.6L49.68 346.8L47.68 343.6Z" fill="#3d3d3d"/>
<path d="M49.68 342.2L51.68 345.4L49.68 348.6L47.68 345.4Z" fill="#3d3d3d"/>
<path d="M52.28 399H58.58" stroke="#3d3d3d" stroke-width="1.5"/>
<path d="M52.58 399H58.28" stroke="#3d3d3d" stroke-width="1.15"/>
<path d="M55.43 340.4L57.43 343.6L55.43 346.8L53.43 343.6Z" fill="#3d3d3d"/>
<path d="M55.43 342.2L57.43 345.4L55.43 348.6L53.43 345.4Z" fill="#3d3d3d"/>
<path d="M58.03 399H64.33" stroke="#3d3d3d" stroke-width="1.5"/>
<path d="M58.33 399H64.03" stroke="#3d3d3d" stroke-width="1.15"/>
<path d="M61.18 340.4L63.18 343.6L61.18 346.8L59.18 343.6Z" fill="#3d3d3d"/>
<path d="M61.18 342.2L63.18 345.4L61.18 348.6L59.18 345.4Z" fill="#3d3d3d"/>
<path d="M74.24 372.3V346.1M72.54 346.1H75.94" stroke="#3d3d3d" stroke-width="1.15" fill="none"/>
<rect x="71.39" y="372.3" width="5.7" height="26.7" fill="#3274a1" stroke="#3d3d3d" stroke-width="1.15"/>
<path d="M71.39 399H77.09" stroke="#3d3d3d" stroke-width="1.15"/>
<path d="M79.99 372.3V346.1M78.29 346.1H81.69" stroke="#3d3d3d" stroke-width="1.15" fill="none"/>
<rect x="77.14" y="372.3" width="5.7" height="26.7" fill="#e1812c" stroke="#3d3d3d" stroke-width="1.15"/>
<path d="M77.14 399H82.84" stroke="#3d3d3d" stroke-width="1.15"/>
<path d="M85.74 372.3V346.1M84.04 346.1H87.44" stroke="#3d3d3d" stroke-width="1.15" fill="none"/>
<rect x="82.89" y="372.3" width="5.7" height="26.7" fill="#3a923a" stroke="#3d3d3d" stroke-width="1.15"/>
<path d="M82.89 399H88.59" stroke="#3d3d3d" stroke-width="1.15"/>
<path d="M91.49 372.3V346.1M89.79 346.1H93.19" stroke="#3d3d3d" stroke-width="1.15" fill="none"/>
<rect x="88.64" y="372.3" width="5.7" height="26.7" fill="#c03d3e" stroke="#3d3d3d" stroke-width="1.15"/>
<path d="M88.64 399H94.34" stroke="#3d3d3d" stroke-width="1.15"/>
<path d="M97.24 372.3V346.1M95.54 346.1H98.94" stroke="#3d3d3d" stroke-width="1.15" fill="none"/>
<rect x="94.39" y="372.3" width="5.7" height="26.7" fill="#9372b2" stroke="#3d3d3d" stroke-width="1.15"/>
<path d="M94.39 399H100.09" stroke="#3d3d3d" stroke-width="1.15"/>
<path d="M110.3 369.6V354.25M108.6 354.25H112" stroke="#3d3d3d" stroke-width="1.15" fill="none"/>
<rect x="107.45" y="369.6" width="5.7" height="29.4" fill="#3274a1" stroke="#3d3d3d" stroke-width="1.15"/>
<path d="M107.45 384H113.15" stroke="#3d3d3d" stroke-width="1.15"/>
<path d="M116.05 369.6V354.25M114.35 354.25H117.75" stroke="#3d3d3d" stroke-width="1.15" fill="none"/>
<rect x="113.2" y="369.6" width="5.7" height="29.4" fill="#e1812c" stroke="#3d3d3d" stroke-width="1.15"/>
<path d="M113.2 384H118.9" stroke="#3d3d3d" stroke-width="1.15"/>
<path d="M121.8 369.6V354.25M120.1 354.25H123.5" stroke="#3d3d3d" stroke-width="1.15" fill="none"/>
<path d="M121.8 395.6V399M120.1 399H123.5" stroke="#3d3d3d" stroke-width="1.15" fill="none"/>
<rect x="118.95" y="369.6" width="5.7" height="26" fill="#3a923a" stroke="#3d3d3d" stroke-width="1.15"/>
<path d="M118.95 384H124.65" stroke="#3d3d3d" stroke-width="1.15"/>
<path d="M127.55 369.6V354.25M125.85 354.25H129.25" stroke="#3d3d3d" stroke-width="1.15" fill="none"/>
<path d="M127.55 395.6V399M125.85 399H129.25" stroke="#3d3d3d" stroke-width="1.15" fill="none"/>
<rect x="124.7" y="369.6" width="5.7" height="26" fill="#c03d3e" stroke="#3d3d3d" stroke-width="1.15"/>
<path d="M124.7 384H130.4" stroke="#3d3d3d" stroke-width="1.15"/>
<path d="M133.3 369.6V354.25M131.6 354.25H135" stroke="#3d3d3d" stroke-width="1.15" fill="none"/>
<rect x="130.45" y="369.6" width="5.7" height="29.4" fill="#9372b2" stroke="#3d3d3d" stroke-width="1.15"/>
<path d="M130.45 384H136.15" stroke="#3d3d3d" stroke-width="1.15"/>
<path d="M146.36 379.5V370M144.66 370H148.06" stroke="#3d3d3d" stroke-width="1.15" fill="none"/>
<path d="M146.36 388.6V399M144.66 399H148.06" stroke="#3d3d3d" stroke-width="1.15" fill="none"/>
<rect x="143.51" y="379.5" width="5.7" height="9.1" fill="#3274a1" stroke="#3d3d3d" stroke-width="1.15"/>
<path d="M143.51 388.6H149.21" stroke="#3d3d3d" stroke-width="1.15"/>
<path d="M146.36 329.3L148.36 332.5L146.36 335.7L144.36 332.5Z" fill="#3d3d3d"/>
<path d="M146.36 357.4L148.36 360.6L146.36 363.8L144.36 360.6Z" fill="#3d3d3d"/>
<path d="M152.11 379.5V370M150.41 370H153.81" stroke="#3d3d3d" stroke-width="1.15" fill="none"/>
<path d="M152.11 388.6V399M150.41 399H153.81" stroke="#3d3d3d" stroke-width="1.15" fill="none"/>
<rect x="149.26" y="379.5" width="5.7" height="9.1" fill="#e1812c" stroke="#3d3d3d" stroke-width="1.15"/>
<path d="M149.26 384.25H154.96" stroke="#3d3d3d" stroke-width="1.15"/>
<path d="M152.11 338.4L154.11 341.6L152.11 344.8L150.11 341.6Z" fill="#3d3d3d"/>
<path d="M152.11 357.4L154.11 360.6L152.11 363.8L150.11 360.6Z" fill="#3d3d3d"/>
<path d="M157.86 372.5V360.25M156.16 360.25H159.56" stroke="#3d3d3d" stroke-width="1.15" fill="none"/>
<path d="M157.86 388.6V399M156.16 399H159.56" stroke="#3d3d3d" stroke-width="1.15" fill="none"/>
<rect x="155.01" y="372.5" width="5.7" height="16.1" fill="#3a923a" stroke="#3d3d3d" stroke-width="1.15"/>
<path d="M155.01 379.5H160.71" stroke="#3d3d3d" stroke-width="1.15"/>
<path d="M157.86 329.3L159.86 332.5L157.86 335.7L155.86 332.5Z" fill="#3d3d3d"/>
<path d="M163.61 379.5V370M161.91 370H165.31" stroke="#3d3d3d" stroke-width="1.15" fill="none"/>
<path d="M163.61 388.6V399M161.91 399H165.31" stroke="#3d3d3d" stroke-width="1.15" fill="none"/>
<rect x="160.76" y="379.5" width="5.7" height="9.1" fill="#c03d3e" stroke="#3d3d3d" stroke-width="1.15"/>
<path d="M160.76 388.6H166.46" stroke="#3d3d3d" stroke-width="1.15"/>
<path d="M163.61 329.3L165.61 332.5L163.61 335.7L161.61 332.5Z" fill="#3d3d3d"/>
<path d="M163.61 357.4L165.61 360.6L163.61 363.8L161.61 360.6Z" fill="#3d3d3d"/>
<path d="M169.36 379.5V370M167.66 370H171.06" stroke="#3d3d3d" stroke-width="1.15" fill="none"/>
<path d="M169.36 388.6V399M167.66 399H171.06" stroke="#3d3d3d" stroke-width="1.15" fill="none"/>
<rect x="166.51" y="379.5" width="5.7" height="9.1" fill="#9372b2" stroke="#3d3d3d" stroke-width="1.15"/>
<path d="M166.51 388.6H172.21" stroke="#3d3d3d" stroke-width="1.15"/>
<path d="M169.36 329.3L171.36 332.5L169.36 335.7L167.36 332.5Z" fill="#3d3d3d"/>
<path d="M169.36 357.4L171.36 360.6L169.36 363.8L167.36 360.6Z" fill="#3d3d3d"/>
<path d="M182.42 378.6V372.5M180.72 372.5H184.12" stroke="#3d3d3d" stroke-width="1.15" fill="none"/>
<path d="M182.42 385.5V391.75M180.72 391.75H184.12" stroke="#3d3d3d" stroke-width="1.15" fill="none"/>
<rect x="179.57" y="378.6" width="5.7" height="6.9" fill="#3274a1" stroke="#3d3d3d" stroke-width="1.15"/>
<path d="M179.57 385.5H185.27" stroke="#3d3d3d" stroke-width="1.15"/>
<path d="M182.42 362.4L184.42 365.6L182.42 368.8L180.42 365.6Z" fill="#3d3d3d"/>
<path d="M182.42 396.05L184.42 399.25L182.42 402.45L180.42 399.25Z" fill="#3d3d3d"/>
<path d="M188.17 378.6V372.5M186.47 372.5H189.87" stroke="#3d3d3d" stroke-width="1.15" fill="none"/>
<path d="M188.17 390.1V399M186.47 399H189.87" stroke="#3d3d3d" stroke-width="1.15" fill="none"/>
<rect x="185.32" y="378.6" width="5.7" height="11.5" fill="#e1812c" stroke="#3d3d3d" stroke-width="1.15"/>
<path d="M185.32 385.5H191.02" stroke="#3d3d3d" stroke-width="1.15"/>
<path d="M193.92 378.6V372.5M192.22 372.5H195.62" stroke="#3d3d3d" stroke-width="1.15" fill="none"/>
<path d="M193.92 385.5V391.75M192.22 391.75H195.62" stroke="#3d3d3d" stroke-width="1.15" fill="none"/>
<rect x="191.07" y="378.6" width="5.7" height="6.9" fill="#3a923a" stroke="#3d3d3d" stroke-width="1.15"/>
<path d="M191.07 385.5H196.77" stroke="#3d3d3d" stroke-width="1.15"/>
<path d="M193.92 362.4L195.92 365.6L193.92 368.8L191.92 365.6Z" fill="#3d3d3d"/>
<path d="M193.92 396.05L195.92 399.25L193.92 402.45L191.92 399.25Z" fill="#3d3d3d"/>
<path d="M199.67 378.6V372.5M197.97 372.5H201.37" stroke="#3d3d3d" stroke-width="1.15" fill="none"/>
<path d="M199.67 385.5V391.75M197.97 391.75H201.37" stroke="#3d3d3d" stroke-width="1.15" fill="none"/>
<rect x="196.82" y="378.6" width="5.7" height="6.9" fill="#c03d3e" stroke="#3d3d3d" stroke-width="1.15"/>
<path d="M196.82 385.5H202.52" stroke="#3d3d3d" stroke-width="1.15"/>
<path d="M199.67 362.4L201.67 365.6L199.67 368.8L197.67 365.6Z" fill="#3d3d3d"/>
<path d="M199.67 396.05L201.67 399.25L199.67 402.45L197.67 399.25Z" fill="#3d3d3d"/>
<path d="M205.42 378.6V372.5M203.72 372.5H207.12" stroke="#3d3d3d" stroke-width="1.15" fill="none"/>
<path d="M205.42 385.5V391.75M203.72 391.75H207.12" stroke="#3d3d3d" stroke-width="1.15" fill="none"/>
<rect x="202.57" y="378.6" width="5.7" height="6.9" fill="#9372b2" stroke="#3d3d3d" stroke-width="1.15"/>
<path d="M202.57 385.5H208.27" stroke="#3d3d3d" stroke-width="1.15"/>
<path d="M205.42 362.4L207.42 365.6L205.42 368.8L203.42 365.6Z" fill="#3d3d3d"/>
<path d="M205.42 396.05L207.42 399.25L205.42 402.45L203.42 399.25Z" fill="#3d3d3d"/>
<path d="M224.5 248.2V406.2H404.95" stroke="#3d3d3d" stroke-width="0.9" fill="none"/>
<path d="M221.9 399H224.5" stroke="#3d3d3d" stroke-width="0.8"/>
<path d="M221.9 368.84H224.5" stroke="#3d3d3d" stroke-width="0.8"/>
<path d="M221.9 338.68H224.5" stroke="#3d3d3d" stroke-width="0.8"/>
<path d="M221.9 308.52H224.5" stroke="#3d3d3d" stroke-width="0.8"/>
<path d="M221.9 278.36H224.5" stroke="#3d3d3d" stroke-width="0.8"/>
<path d="M221.9 248.2H224.5" stroke="#3d3d3d" stroke-width="0.8"/>
<path d="M242.58 406.2V409" stroke="#3d3d3d" stroke-width="0.8"/>
<text x="242.58" y="417.2" text-anchor="middle" class="tk" textLength="16" lengthAdjust="spacingAndGlyphs">10.0</text>
<path d="M278.64 406.2V409" stroke="#3d3d3d" stroke-width="0.8"/>
<text x="278.64" y="417.2" text-anchor="middle" class="tk" textLength="16" lengthAdjust="spacingAndGlyphs">15.0</text>
<path d="M314.7 406.2V409" stroke="#3d3d3d" stroke-width="0.8"/>
<text x="314.7" y="417.2" text-anchor="middle" class="tk" textLength="16" lengthAdjust="spacingAndGlyphs">20.0</text>
<path d="M350.76 406.2V409" stroke="#3d3d3d" stroke-width="0.8"/>
<text x="350.76" y="417.2" text-anchor="middle" class="tk" textLength="16" lengthAdjust="spacingAndGlyphs">25.0</text>
<path d="M386.82 406.2V409" stroke="#3d3d3d" stroke-width="0.8"/>
<text x="386.82" y="417.2" text-anchor="middle" class="tk" textLength="16" lengthAdjust="spacingAndGlyphs">30.0</text>
<text x="314.7" y="427.4" text-anchor="middle" class="tk" textLength="20.3" lengthAdjust="spacingAndGlyphs">nvars</text>
<text x="314.8" y="245.2" text-anchor="middle" class="tk" textLength="49.2" lengthAdjust="spacingAndGlyphs">density = 0.2</text>
<path d="M231.08 341.3V255.25M229.38 255.25H232.78" stroke="#3d3d3d" stroke-width="1.15" fill="none"/>
<rect x="228.23" y="341.3" width="5.7" height="57.7" fill="#3274a1" stroke="#3d3d3d" stroke-width="1.15"/>
<path d="M228.23 369.4H233.93" stroke="#3d3d3d" stroke-width="1.15"/>
<path d="M236.83 341.3V255.25M235.13 255.25H238.53" stroke="#3d3d3d" stroke-width="1.15" fill="none"/>
<rect x="233.98" y="341.3" width="5.7" height="57.7" fill="#e1812c" stroke="#3d3d3d" stroke-width="1.15"/>
<path d="M233.98 369.4H239.68" stroke="#3d3d3d" stroke-width="1.15"/>
<path d="M242.58 341.3V255.25M240.88 255.25H244.28" stroke="#3d3d3d" stroke-width="1.15" fill="none"/>
<rect x="239.73" y="341.3" width="5.7" height="57.7" fill="#3a923a" stroke="#3d3d3d" stroke-width="1.15"/>
<path d="M239.73 369.4H245.43" stroke="#3d3d3d" stroke-width="1.15"/>
<path d="M248.33 341.3V255.25M246.63 255.25H250.03" stroke="#3d3d3d" stroke-width="1.15" fill="none"/>
<rect x="245.48" y="341.3" width="5.7" height="57.7" fill="#c03d3e" stroke="#3d3d3d" stroke-width="1.15"/>
<path d="M245.48 369.4H251.18" stroke="#3d3d3d" stroke-width="1.15"/>
<path d="M254.08 341.3V255.25M252.38 255.25H255.78" stroke="#3d3d3d" stroke-width="1.15" fill="none"/>
<rect x="251.23" y="341.3" width="5.7" height="57.7" fill="#9372b2" stroke="#3d3d3d" stroke-width="1.15"/>
<path d="M251.23 369.4H256.93" stroke="#3d3d3d" stroke-width="1.15"/>
<path d="M267.14 359.4V333M265.44 333H268.84" stroke="#3d3d3d" stroke-width="1.15" fill="none"/>
<path d="M267.14 385.25V399M265.44 399H268.84" stroke="#3d3d3d" stroke-width="1.15" fill="none"/>
<rect x="264.29" y="359.4" width="5.7" height="25.85" fill="#3274a1" stroke="#3d3d3d" stroke-width="1.15"/>
<path d="M264.29 372.75H269.99" stroke="#3d3d3d" stroke-width="1.15"/>
<path d="M272.89 359.4V333M271.19 333H274.59" stroke="#3d3d3d" stroke-width="1.15" fill="none"/>
<path d="M272.89 385.25V399M271.19 399H274.59" stroke="#3d3d3d" stroke-width="1.15" fill="none"/>
<rect x="270.04" y="359.4" width="5.7" height="25.85" fill="#e1812c" stroke="#3d3d3d" stroke-width="1.15"/>
<path d="M270.04 372.75H275.74" stroke="#3d3d3d" stroke-width="1.15"/>
<path d="M278.64 359.4V346M276.94 346H280.34" stroke="#3d3d3d" stroke-width="1.15" fill="none"/>
<path d="M278.64 372.75V385.25M276.94 385.25H280.34" stroke="#3d3d3d" stroke-width="1.15" fill="none"/>
<rect x="275.79" y="359.4" width="5.7" height="13.35" fill="#3a923a" stroke="#3d3d3d" stroke-width="1.15"/>
<path d="M275.79 372.75H281.49" stroke="#3d3d3d" stroke-width="1.15"/>
<path d="M278.64 317.05L280.64 320.25L278.64 323.45L276.64 320.25Z" fill="#3d3d3d"/>
<path d="M278.64 330.3L280.64 333.5L278.64 336.7L276.64 333.5Z" fill="#3d3d3d"/>
<path d="M278.64 395.8L280.64 399L278.64 402.2L276.64 399Z" fill="#3d3d3d"/>
<path d="M284.39 359.4V333M282.69 333H286.09" stroke="#3d3d3d" stroke-width="1.15" fill="none"/>
<path d="M284.39 385.25V399M282.69 399H286.09" stroke="#3d3d3d" stroke-width="1.15" fill="none"/>
<rect x="281.54" y="359.4" width="5.7" height="25.85" fill="#c03d3e" stroke="#3d3d3d" stroke-width="1.15"/>
<path d="M281.54 372.75H287.24" stroke="#3d3d3d" stroke-width="1.15"/>
<path d="M290.14 359.4V333M288.44 333H291.84" stroke="#3d3d3d" stroke-width="1.15" fill="none"/>
<path d="M290.14 385.25V399M288.44 399H291.84" stroke="#3d3d3d" stroke-width="1.15" fill="none"/>
<rect x="287.29" y="359.4" width="5.7" height="25.85" fill="#9372b2" stroke="#3d3d3d" stroke-width="1.15"/>
<path d="M287.29 372.75H292.99" stroke="#3d3d3d" stroke-width="1.15"/>
<path d="M303.2 361.9V338.75M301.5 338.75H304.9" stroke="#3d3d3d" stroke-width="1.15" fill="none"/>
<path d="M303.2 375.6V399M301.5 399H304.9" stroke="#3d3d3d" stroke-width="1.15" fill="none"/>
<rect x="300.35" y="361.9" width="5.7" height="13.7" fill="#3274a1" stroke="#3d3d3d" stroke-width="1.15"/>
<path d="M300.35 369.4H306.05" stroke="#3d3d3d" stroke-width="1.15"/>
<path d="M308.95 362.25V346.9M307.25 346.9H310.65" stroke="#3d3d3d" stroke-width="1.15" fill="none"/>
<path d="M308.95 381.25V399M307.25 399H310.65" stroke="#3d3d3d" stroke-width="1.15" fill="none"/>
<rect x="306.1" y="362.25" width="5.7" height="19" fill="#e1812c" stroke="#3d3d3d" stroke-width="1.15"/>
<path d="M306.1 369.4H311.8" stroke="#3d3d3d" stroke-width="1.15"/>
<path d="M314.7 354.4V324.25M313 324.25H316.4" stroke="#3d3d3d" stroke-width="1.15" fill="none"/>
<path d="M314.7 375.6V390.6M313 390.6H316.4" stroke="#3d3d3d" stroke-width="1.15" fill="none"/>
<rect x="311.85" y="354.4" width="5.7" height="21.2" fill="#3a923a" stroke="#3d3d3d" stroke-width="1.15"/>
<path d="M311.85 362.25H317.55" stroke="#3d3d3d" stroke-width="1.15"/>
<path d="M320.45 361.9V338.75M318.75 338.75H322.15" stroke="#3d3d3d" stroke-width="1.15" fill="none"/>
<path d="M320.45 375.6V399M318.75 399H322.15" stroke="#3d3d3d" stroke-width="1.15" fill="none"/>
<rect x="317.6" y="361.9" width="5.7" height="13.7" fill="#c03d3e" stroke="#3d3d3d" stroke-width="1.15"/>
<path d="M317.6 369.4H323.3" stroke="#3d3d3d" stroke-width="1.15"/>
<path d="M326.2 361.9V338.75M324.5 338.75H327.9" stroke="#3d3d3d" stroke-width="1.15" fill="none"/>
<path d="M326.2 375.6V399M324.5 399H327.9" stroke="#3d3d3d" stroke-width="1.15" fill="none"/>
<rect x="323.35" y="361.9" width="5.7" height="13.7" fill="#9372b2" stroke="#3d3d3d" stroke-width="1.15"/>
<path d="M323.35 369.4H329.05" stroke="#3d3d3d" stroke-width="1.15"/>
<path d="M339.26 369.5V355M337.56 355H340.96" stroke="#3d3d3d" stroke-width="1.15" fill="none"/>
<path d="M339.26 379.5V393.75M337.56 393.75H340.96" stroke="#3d3d3d" stroke-width="1.15" fill="none"/>
<rect x="336.41" y="369.5" width="5.7" height="10" fill="#3274a1" stroke="#3d3d3d" stroke-width="1.15"/>
<path d="M336.41 374.25H342.11" stroke="#3d3d3d" stroke-width="1.15"/>
<path d="M345.01 374.25V365.5M343.31 365.5H346.71" stroke="#3d3d3d" stroke-width="1.15" fill="none"/>
<path d="M345.01 384.25V393.75M343.31 393.75H346.71" stroke="#3d3d3d" stroke-width="1.15" fill="none"/>
<rect x="342.16" y="374.25" width="5.7" height="10" fill="#e1812c" stroke="#3d3d3d" stroke-width="1.15"/>
<path d="M342.16 379.5H347.86" stroke="#3d3d3d" stroke-width="1.15"/>
<path d="M345.01 352.3L347.01 355.5L345.01 358.7L343.01 355.5Z" fill="#3d3d3d"/>
<path d="M350.76 351.25V340.75M349.06 340.75H352.46" stroke="#3d3d3d" stroke-width="1.15" fill="none"/>
<path d="M350.76 365V379.5M349.06 379.5H352.46" stroke="#3d3d3d" stroke-width="1.15" fill="none"/>
<rect x="347.91" y="351.25" width="5.7" height="13.75" fill="#3a923a" stroke="#3d3d3d" stroke-width="1.15"/>
<path d="M347.91 360H353.61" stroke="#3d3d3d" stroke-width="1.15"/>
<path d="M356.51 365.5V350.75M354.81 350.75H358.21" stroke="#3d3d3d" stroke-width="1.15" fill="none"/>
<path d="M356.51 374.25V384.25M354.81 384.25H358.21" stroke="#3d3d3d" stroke-width="1.15" fill="none"/>
<rect x="353.66" y="365.5" width="5.7" height="8.75" fill="#c03d3e" stroke="#3d3d3d" stroke-width="1.15"/>
<path d="M353.66 369.5H359.36" stroke="#3d3d3d" stroke-width="1.15"/>
<path d="M356.51 390.55L358.51 393.75L356.51 396.95L354.51 393.75Z" fill="#3d3d3d"/>
<path d="M362.26 365.5V350.75M360.56 350.75H363.96" stroke="#3d3d3d" stroke-width="1.15" fill="none"/>
<path d="M362.26 379.5V393.75M360.56 393.75H363.96" stroke="#3d3d3d" stroke-width="1.15" fill="none"/>
<rect x="359.41" y="365.5" width="5.7" height="14" fill="#9372b2" stroke="#3d3d3d" stroke-width="1.15"/>
<path d="M359.41 369.5H365.11" stroke="#3d3d3d" stroke-width="1.15"/>
<path d="M375.32 371.75V364.5M373.62 364.5H377.02" stroke="#3d3d3d" stroke-width="1.15" fill="none"/>
<path d="M375.32 378.75V388M373.62 388H377.02" stroke="#3d3d3d" stroke-width="1.15" fill="none"/>
<rect x="372.47" y="371.75" width="5.7" height="7" fill="#3274a1" stroke="#3d3d3d" stroke-width="1.15"/>
<path d="M372.47 374.25H378.17" stroke="#3d3d3d" stroke-width="1.15"/>
<path d="M375.32 353.05L377.32 356.25L375.32 359.45L373.32 356.25Z" fill="#3d3d3d"/>
<path d="M375.32 355.55L377.32 358.75L375.32 361.95L373.32 358.75Z" fill="#3d3d3d"/>
<path d="M381.07 378.75V368.75M379.37 368.75H382.77" stroke="#3d3d3d" stroke-width="1.15" fill="none"/>
<path d="M381.07 385V394.5M379.37 394.5H382.77" stroke="#3d3d3d" stroke-width="1.15" fill="none"/>
<rect x="378.22" y="378.75" width="5.7" height="6.25" fill="#e1812c" stroke="#3d3d3d" stroke-width="1.15"/>
<path d="M378.22 381.25H383.92" stroke="#3d3d3d" stroke-width="1.15"/>
<path d="M381.07 362.3L383.07 365.5L381.07 368.7L379.07 365.5Z" fill="#3d3d3d"/>
<path d="M386.82 345V325.75M385.12 325.75H388.52" stroke="#3d3d3d" stroke-width="1.15" fill="none"/>
<path d="M386.82 358.75V374.5M385.12 374.5H388.52" stroke="#3d3d3d" stroke-width="1.15" fill="none"/>
<rect x="383.97" y="345" width="5.7" height="13.75" fill="#3a923a" stroke="#3d3d3d" stroke-width="1.15"/>
<path d="M383.97 351.25H389.67" stroke="#3d3d3d" stroke-width="1.15"/>
<path d="M386.82 316.05L388.82 319.25L386.82 322.45L384.82 319.25Z" fill="#3d3d3d"/>
<path d="M386.82 378.05L388.82 381.25L386.82 384.45L384.82 381.25Z" fill="#3d3d3d"/>
<path d="M392.57 359.25V335.5M390.87 335.5H394.27" stroke="#3d3d3d" stroke-width="1.15" fill="none"/>
<path d="M392.57 373.75V388M390.87 388H394.27" stroke="#3d3d3d" stroke-width="1.15" fill="none"/>
<rect x="389.72" y="359.25" width="5.7" height="14.5" fill="#c03d3e" stroke="#3d3d3d" stroke-width="1.15"/>
<path d="M389.72 367.5H395.42" stroke="#3d3d3d" stroke-width="1.15"/>
<path d="M398.32 365V355M396.62 355H400.02" stroke="#3d3d3d" stroke-width="1.15" fill="none"/>
<path d="M398.32 378.25V388M396.62 388H400.02" stroke="#3d3d3d" stroke-width="1.15" fill="none"/>
<rect x="395.47" y="365" width="5.7" height="13.25" fill="#9372b2" stroke="#3d3d3d" stroke-width="1.15"/>
<path d="M395.47 371.25H401.17" stroke="#3d3d3d" stroke-width="1.15"/>
<path d="M398.32 338.8L400.32 342L398.32 345.2L396.32 342Z" fill="#3d3d3d"/>
<path d="M418 248.2V406.2H598.6" stroke="#3d3d3d" stroke-width="0.9" fill="none"/>
<path d="M415.4 399H418" stroke="#3d3d3d" stroke-width="0.8"/>
<path d="M415.4 368.84H418" stroke="#3d3d3d" stroke-width="0.8"/>
<path d="M415.4 338.68H418" stroke="#3d3d3d" stroke-width="0.8"/>
<path d="M415.4 308.52H418" stroke="#3d3d3d" stroke-width="0.8"/>
<path d="M415.4 278.36H418" stroke="#3d3d3d" stroke-width="0.8"/>
<path d="M415.4 248.2H418" stroke="#3d3d3d" stroke-width="0.8"/>
<path d="M435.38 406.2V409" stroke="#3d3d3d" stroke-width="0.8"/>
<text x="435.38" y="417.2" text-anchor="middle" class="tk" textLength="16" lengthAdjust="spacingAndGlyphs">10.0</text>
<path d="M471.44 406.2V409" stroke="#3d3d3d" stroke-width="0.8"/>
<text x="471.44" y="417.2" text-anchor="middle" class="tk" textLength="16" lengthAdjust="spacingAndGlyphs">15.0</text>
<path d="M507.5 406.2V409" stroke="#3d3d3d" stroke-width="0.8"/>
<text x="507.5" y="417.2" text-anchor="middle" class="tk" textLength="16" lengthAdjust="spacingAndGlyphs">20.0</text>
<path d="M543.56 406.2V409" stroke="#3d3d3d" stroke-width="0.8"/>
<text x="543.56" y="417.2" text-anchor="middle" class="tk" textLength="16" lengthAdjust="spacingAndGlyphs">25.0</text>
<path d="M579.62 406.2V409" stroke="#3d3d3d" stroke-width="0.8"/>
<text x="579.62" y="417.2" text-anchor="middle" class="tk" textLength="16" lengthAdjust="spacingAndGlyphs">30.0</text>
<text x="507.5" y="427.4" text-anchor="middle" class="tk" textLength="20.3" lengthAdjust="spacingAndGlyphs">nvars</text>
<text x="507.6" y="245.2" text-anchor="middle" class="tk" textLength="49.2" lengthAdjust="spacingAndGlyphs">density = 0.3</text>
<path d="M423.88 340.25V321.5M422.18 321.5H425.58" stroke="#3d3d3d" stroke-width="1.15" fill="none"/>
<path d="M423.88 359.25V378.6M422.18 378.6H425.58" stroke="#3d3d3d" stroke-width="1.15" fill="none"/>
<rect x="421.03" y="340.25" width="5.7" height="19" fill="#3274a1" stroke="#3d3d3d" stroke-width="1.15"/>
<path d="M421.03 359.25H426.73" stroke="#3d3d3d" stroke-width="1.15"/>
<path d="M423.88 298.7L425.88 301.9L423.88 305.1L421.88 301.9Z" fill="#3d3d3d"/>
<path d="M423.88 395.55L425.88 398.75L423.88 401.95L421.88 398.75Z" fill="#3d3d3d"/>
<path d="M429.63 340.25V321.5M427.93 321.5H431.33" stroke="#3d3d3d" stroke-width="1.15" fill="none"/>
<path d="M429.63 359.25V378.6M427.93 378.6H431.33" stroke="#3d3d3d" stroke-width="1.15" fill="none"/>
<rect x="426.78" y="340.25" width="5.7" height="19" fill="#e1812c" stroke="#3d3d3d" stroke-width="1.15"/>
<path d="M426.78 359.25H432.48" stroke="#3d3d3d" stroke-width="1.15"/>
<path d="M429.63 298.7L431.63 301.9L429.63 305.1L427.63 301.9Z" fill="#3d3d3d"/>
<path d="M429.63 395.55L431.63 398.75L429.63 401.95L427.63 398.75Z" fill="#3d3d3d"/>
<path d="M435.38 321.5V301.5M433.68 301.5H437.08" stroke="#3d3d3d" stroke-width="1.15" fill="none"/>
<path d="M435.38 359.25V398.6M433.68 398.6H437.08" stroke="#3d3d3d" stroke-width="1.15" fill="none"/>
<rect x="432.53" y="321.5" width="5.7" height="37.75" fill="#3a923a" stroke="#3d3d3d" stroke-width="1.15"/>
<path d="M432.53 340.25H438.23" stroke="#3d3d3d" stroke-width="1.15"/>
<path d="M441.13 321.5V301.5M439.43 301.5H442.83" stroke="#3d3d3d" stroke-width="1.15" fill="none"/>
<path d="M441.13 359.25V398.6M439.43 398.6H442.83" stroke="#3d3d3d" stroke-width="1.15" fill="none"/>
<rect x="438.28" y="321.5" width="5.7" height="37.75" fill="#c03d3e" stroke="#3d3d3d" stroke-width="1.15"/>
<path d="M438.28 359.25H443.98" stroke="#3d3d3d" stroke-width="1.15"/>
<path d="M446.88 340.25V321.5M445.18 321.5H448.58" stroke="#3d3d3d" stroke-width="1.15" fill="none"/>
<path d="M446.88 359.25V378.6M445.18 378.6H448.58" stroke="#3d3d3d" stroke-width="1.15" fill="none"/>
<rect x="444.03" y="340.25" width="5.7" height="19" fill="#9372b2" stroke="#3d3d3d" stroke-width="1.15"/>
<path d="M444.03 359.25H449.73" stroke="#3d3d3d" stroke-width="1.15"/>
<path d="M446.88 298.7L448.88 301.9L446.88 305.1L444.88 301.9Z" fill="#3d3d3d"/>
<path d="M446.88 395.55L448.88 398.75L446.88 401.95L444.88 398.75Z" fill="#3d3d3d"/>
<path d="M459.94 354.5V336.6M458.24 336.6H461.64" stroke="#3d3d3d" stroke-width="1.15" fill="none"/>
<path d="M459.94 371.5V389.25M458.24 389.25H461.64" stroke="#3d3d3d" stroke-width="1.15" fill="none"/>
<rect x="457.09" y="354.5" width="5.7" height="17" fill="#3274a1" stroke="#3d3d3d" stroke-width="1.15"/>
<path d="M457.09 363.25H462.79" stroke="#3d3d3d" stroke-width="1.15"/>
<path d="M465.69 354.5V336.6M463.99 336.6H467.39" stroke="#3d3d3d" stroke-width="1.15" fill="none"/>
<path d="M465.69 371.5V389.25M463.99 389.25H467.39" stroke="#3d3d3d" stroke-width="1.15" fill="none"/>
<rect x="462.84" y="354.5" width="5.7" height="17" fill="#e1812c" stroke="#3d3d3d" stroke-width="1.15"/>
<path d="M462.84 363.25H468.54" stroke="#3d3d3d" stroke-width="1.15"/>
<path d="M471.44 345.3V319M469.74 319H473.14" stroke="#3d3d3d" stroke-width="1.15" fill="none"/>
<path d="M471.44 363.25V389.25M469.74 389.25H473.14" stroke="#3d3d3d" stroke-width="1.15" fill="none"/>
<rect x="468.59" y="345.3" width="5.7" height="17.95" fill="#3a923a" stroke="#3d3d3d" stroke-width="1.15"/>
<path d="M468.59 363.25H474.29" stroke="#3d3d3d" stroke-width="1.15"/>
<path d="M471.44 307.05L473.44 310.25L471.44 313.45L469.44 310.25Z" fill="#3d3d3d"/>
<path d="M477.19 354.5V327.75M475.49 327.75H478.89" stroke="#3d3d3d" stroke-width="1.15" fill="none"/>
<path d="M477.19 371.5V389.25M475.49 389.25H478.89" stroke="#3d3d3d" stroke-width="1.15" fill="none"/>
<rect x="474.34" y="354.5" width="5.7" height="17" fill="#c03d3e" stroke="#3d3d3d" stroke-width="1.15"/>
<path d="M474.34 363.25H480.04" stroke="#3d3d3d" stroke-width="1.15"/>
<path d="M482.94 354.5V336.6M481.24 336.6H484.64" stroke="#3d3d3d" stroke-width="1.15" fill="none"/>
<path d="M482.94 371.5V389.25M481.24 389.25H484.64" stroke="#3d3d3d" stroke-width="1.15" fill="none"/>
<rect x="480.09" y="354.5" width="5.7" height="17" fill="#9372b2" stroke="#3d3d3d" stroke-width="1.15"/>
<path d="M480.09 363.25H485.79" stroke="#3d3d3d" stroke-width="1.15"/>
<path d="M496 364.4V349M494.3 349H497.7" stroke="#3d3d3d" stroke-width="1.15" fill="none"/>
<path d="M496 374V383.75M494.3 383.75H497.7" stroke="#3d3d3d" stroke-width="1.15" fill="none"/>
<rect x="493.15" y="364.4" width="5.7" height="9.6" fill="#3274a1" stroke="#3d3d3d" stroke-width="1.15"/>
<path d="M493.15 369.1H498.85" stroke="#3d3d3d" stroke-width="1.15"/>
<path d="M496 340.8L498 344L496 347.2L494 344Z" fill="#3d3d3d"/>
<path d="M501.75 365.6V354.1M500.05 354.1H503.45" stroke="#3d3d3d" stroke-width="1.15" fill="none"/>
<path d="M501.75 377.2V383.75M500.05 383.75H503.45" stroke="#3d3d3d" stroke-width="1.15" fill="none"/>
<rect x="498.9" y="365.6" width="5.7" height="11.6" fill="#e1812c" stroke="#3d3d3d" stroke-width="1.15"/>
<path d="M498.9 374.4H504.6" stroke="#3d3d3d" stroke-width="1.15"/>
<path d="M507.5 339.3V329M505.8 329H509.2" stroke="#3d3d3d" stroke-width="1.15" fill="none"/>
<path d="M507.5 353.75V369.1M505.8 369.1H509.2" stroke="#3d3d3d" stroke-width="1.15" fill="none"/>
<rect x="504.65" y="339.3" width="5.7" height="14.45" fill="#3a923a" stroke="#3d3d3d" stroke-width="1.15"/>
<path d="M504.65 344H510.35" stroke="#3d3d3d" stroke-width="1.15"/>
<path d="M507.5 305.55L509.5 308.75L507.5 311.95L505.5 308.75Z" fill="#3d3d3d"/>
<path d="M507.5 311.55L509.5 314.75L507.5 317.95L505.5 314.75Z" fill="#3d3d3d"/>
<path d="M513.25 350.6V338.75M511.55 338.75H514.95" stroke="#3d3d3d" stroke-width="1.15" fill="none"/>
<path d="M513.25 368.75V383.75M511.55 383.75H514.95" stroke="#3d3d3d" stroke-width="1.15" fill="none"/>
<rect x="510.4" y="350.6" width="5.7" height="18.15" fill="#c03d3e" stroke="#3d3d3d" stroke-width="1.15"/>
<path d="M510.4 359H516.1" stroke="#3d3d3d" stroke-width="1.15"/>
<path d="M519 359V344M517.3 344H520.7" stroke="#3d3d3d" stroke-width="1.15" fill="none"/>
<path d="M519 368.75V383.75M517.3 383.75H520.7" stroke="#3d3d3d" stroke-width="1.15" fill="none"/>
<rect x="516.15" y="359" width="5.7" height="9.75" fill="#9372b2" stroke="#3d3d3d" stroke-width="1.15"/>
<path d="M516.15 362.2H521.85" stroke="#3d3d3d" stroke-width="1.15"/>
<path d="M519 335.55L521 338.75L519 341.95L517 338.75Z" fill="#3d3d3d"/>
<path d="M532.06 363.5V350M530.36 350H533.76" stroke="#3d3d3d" stroke-width="1.15" fill="none"/>
<path d="M532.06 373.4V385.6M530.36 385.6H533.76" stroke="#3d3d3d" stroke-width="1.15" fill="none"/>
<rect x="529.21" y="363.5" width="5.7" height="9.9" fill="#3274a1" stroke="#3d3d3d" stroke-width="1.15"/>
<path d="M529.21 369.1H534.91" stroke="#3d3d3d" stroke-width="1.15"/>
<path d="M537.81 374V366.5M536.11 366.5H539.51" stroke="#3d3d3d" stroke-width="1.15" fill="none"/>
<path d="M537.81 382.25V392.2M536.11 392.2H539.51" stroke="#3d3d3d" stroke-width="1.15" fill="none"/>
<rect x="534.96" y="374" width="5.7" height="8.25" fill="#e1812c" stroke="#3d3d3d" stroke-width="1.15"/>
<path d="M534.96 377.2H540.66" stroke="#3d3d3d" stroke-width="1.15"/>
<path d="M543.56 324.5V309.25M541.86 309.25H545.26" stroke="#3d3d3d" stroke-width="1.15" fill="none"/>
<path d="M543.56 341V357.5M541.86 357.5H545.26" stroke="#3d3d3d" stroke-width="1.15" fill="none"/>
<rect x="540.71" y="324.5" width="5.7" height="16.5" fill="#3a923a" stroke="#3d3d3d" stroke-width="1.15"/>
<path d="M540.71 334H546.41" stroke="#3d3d3d" stroke-width="1.15"/>
<path d="M549.31 344.4V328.4M547.61 328.4H551.01" stroke="#3d3d3d" stroke-width="1.15" fill="none"/>
<path d="M549.31 360V373.4M547.61 373.4H551.01" stroke="#3d3d3d" stroke-width="1.15" fill="none"/>
<rect x="546.46" y="344.4" width="5.7" height="15.6" fill="#c03d3e" stroke="#3d3d3d" stroke-width="1.15"/>
<path d="M546.46 355.25H552.16" stroke="#3d3d3d" stroke-width="1.15"/>
<path d="M549.31 383.4L551.31 386.6L549.31 389.8L547.31 386.6Z" fill="#3d3d3d"/>
<path d="M555.06 354.7V337.8M553.36 337.8H556.76" stroke="#3d3d3d" stroke-width="1.15" fill="none"/>
<path d="M555.06 369.1V385.6M553.36 385.6H556.76" stroke="#3d3d3d" stroke-width="1.15" fill="none"/>
<rect x="552.21" y="354.7" width="5.7" height="14.4" fill="#9372b2" stroke="#3d3d3d" stroke-width="1.15"/>
<path d="M552.21 363.1H557.91" stroke="#3d3d3d" stroke-width="1.15"/>
<text transform="translate(5.9 328) rotate(-90)" text-anchor="middle" class="tk" textLength="55" lengthAdjust="spacingAndGlyphs">Omission Error</text>
<rect x="565.3" y="300.5" width="80" height="65.5" rx="2" ry="2" fill="#fff" fill-opacity="0.8" stroke="#d0d0d0" stroke-width="0.8"/>
<text x="602.6" y="309.6" text-anchor="middle" class="tk" textLength="45.2" lengthAdjust="spacingAndGlyphs">Method used</text>
<rect x="568.3" y="314.95" width="14.5" height="4.6" fill="#3274a1" stroke="#3d3d3d" stroke-width="0.7"/>
<text x="588.1" y="319.95" class="tk" textLength="9.3" lengthAdjust="spacingAndGlyphs">PC</text>
<rect x="568.3" y="325.57" width="14.5" height="4.6" fill="#e1812c" stroke="#3d3d3d" stroke-width="0.7"/>
<text x="588.1" y="330.57" class="tk" textLength="9.9" lengthAdjust="spacingAndGlyphs">GC</text>
<rect x="568.3" y="336.2" width="14.5" height="4.6" fill="#3a923a" stroke="#3d3d3d" stroke-width="0.7"/>
<text x="588.1" y="341.2" class="tk" textLength="47.9" lengthAdjust="spacingAndGlyphs">MMPC-p: 0.01</text>
<rect x="568.3" y="346.82" width="14.5" height="4.6" fill="#c03d3e" stroke="#3d3d3d" stroke-width="0.7"/>
<text x="588.1" y="351.82" class="tk" textLength="47.9" lengthAdjust="spacingAndGlyphs">MMPC-p: 0.05</text>
<rect x="568.3" y="357.45" width="14.5" height="4.6" fill="#9372b2" stroke="#3d3d3d" stroke-width="0.7"/>
<text x="588.1" y="362.45" class="tk" textLength="40" lengthAdjust="spacingAndGlyphs">MMPC-p: 0.1</text>
<text x="171.3" y="212.6" class="cap" textLength="297" lengthAdjust="spacingAndGlyphs">Fig. 1: Commission errors for all methods with <tspan font-weight="bold">Tester 1</tspan>.</text>
</svg>
</body></html>
